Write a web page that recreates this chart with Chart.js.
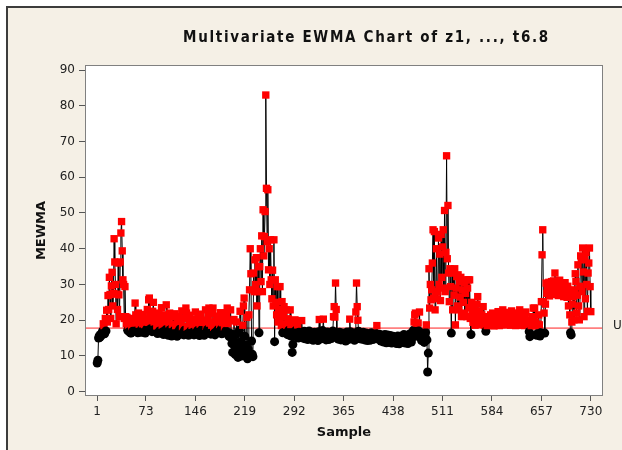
<!DOCTYPE html>
<html><head><meta charset="utf-8">
<script src="https://cdn.jsdelivr.net/npm/chart.js@4.4.1/dist/chart.umd.min.js"></script>
<style>html,body{margin:0;padding:0;background:#fff;overflow:hidden;}canvas{display:block;}</style>
</head><body>
<canvas id="c" width="622" height="450"></canvas>
<script>
const titleText = 'Multivariate EWMA Chart of z1, ..., t6.8';
const yTitle = 'MEWMA';
const xTitle = 'Sample';
const uclValue = 17.8;
const uclLabel = 'UCL=17.8';
const xTicks = [1, 73, 146, 219, 292, 365, 438, 511, 584, 657, 730];
const yTicks = [0, 10, 20, 30, 40, 50, 60, 70, 80, 90];
const mewma = [
  8.0, 8.8, 15.0, 15.6, 15.2, 16.0, 15.7, 16.3, 17.0, 19.0,
  18.5, 16.2, 20.5, 17.0, 22.8, 19.5, 26.9, 23.0, 32.0, 27.2,
  20.5, 29.6, 33.4, 24.0, 27.5, 42.8, 36.3, 30.0, 19.0, 27.3,
  23.0, 36.0, 27.1, 21.0, 36.3, 44.4, 47.6, 39.4, 31.3, 30.0,
  20.5, 29.4, 21.0, 19.0, 20.8, 17.2, 18.5, 16.8, 19.6, 16.5,
  16.4, 18.0, 16.8, 20.5, 17.1, 19.2, 24.8, 21.5, 17.0, 19.8,
  16.5, 22.0, 18.9, 16.7, 20.5, 17.3, 16.6, 19.0, 21.6, 17.0,
  18.8, 16.4, 20.2, 17.5, 23.0, 19.4, 25.7, 26.2, 21.0, 17.6,
  20.8, 16.8, 22.5, 25.0, 19.5, 17.4, 16.9, 21.2, 18.4, 16.3,
  19.7, 22.0, 17.0, 16.4, 20.5, 23.5, 18.6, 16.8, 16.0, 19.2,
  21.5, 17.3, 24.3, 20.6, 16.6, 15.8, 19.0, 22.0, 17.4, 16.2,
  15.6, 18.8, 20.9, 16.9, 17.2, 21.8, 18.5, 16.0, 15.5, 19.3,
  16.8, 21.0, 17.5, 16.1, 19.9, 22.6, 18.2, 16.5, 15.9, 17.2,
  20.5, 23.4, 22.0, 18.0, 16.3, 15.8, 19.6, 21.4, 17.0, 16.2,
  18.6, 20.2, 16.7, 15.9, 19.0, 22.3, 18.5, 16.4, 17.1, 20.6,
  16.0, 15.7, 18.9, 21.7, 17.3, 16.5, 19.4, 16.2, 15.8, 20.0,
  22.9, 18.3, 16.6, 17.4, 21.0, 23.4, 19.2, 16.8, 16.1, 18.6,
  21.9, 23.4, 18.0, 16.4, 15.9, 19.7, 21.2, 16.9, 17.3, 20.4,
  16.6, 18.8, 22.1, 17.5, 16.2, 19.3, 16.7, 20.8, 18.1, 16.4,
  17.0, 21.6, 23.4, 19.1, 16.5, 15.4, 19.8, 22.9, 16.2, 13.5,
  11.0, 15.2, 20.2, 12.8, 10.4, 16.0, 19.5, 13.4, 9.6, 11.8,
  17.2, 22.5, 14.0, 10.0, 12.5, 18.6, 24.0, 26.2, 15.5, 11.2,
  13.0, 20.8, 9.2, 12.0, 21.5, 28.5, 40.0, 33.0, 14.2, 10.5,
  9.8, 33.2, 28.0, 36.9, 30.0, 37.5, 24.0, 28.0, 35.0, 16.5,
  35.0, 40.0, 30.8, 43.6, 28.0, 50.9, 38.0, 43.4, 50.4, 83.0,
  56.9, 42.0, 56.5, 34.1, 40.0, 30.0, 42.5, 31.3, 26.0, 34.0,
  24.0, 42.5, 14.0, 31.3, 25.0, 21.5, 29.4, 19.5, 23.0, 20.5,
  29.4, 22.0, 18.5, 25.2, 16.5, 21.0, 23.8, 19.0, 16.8, 22.9,
  18.6, 16.0, 20.4, 17.2, 15.8, 22.9, 18.8, 15.5, 11.0, 13.2,
  15.6, 16.2, 20.1, 17.1, 15.4, 16.3, 18.7, 15.0, 16.6, 15.9,
  16.0, 15.2, 19.9, 16.4, 15.0, 15.8, 16.9, 14.8, 15.5, 16.2,
  15.1, 14.6, 16.0, 17.0, 15.4, 14.9, 15.7, 16.3, 15.0, 14.4,
  15.8, 16.6, 15.2, 14.7, 16.1, 15.5, 14.3, 16.8, 20.2, 16.0,
  15.3, 14.8, 16.2, 17.1, 20.3, 16.4, 15.0, 15.6, 14.5, 15.9,
  16.7, 15.3, 14.6, 15.8, 16.5, 15.1, 14.9, 16.3, 17.0, 21.0,
  23.8, 20.9, 30.4, 23.0, 16.5, 15.4, 14.7, 15.9, 16.6, 15.2,
  14.5, 15.7, 16.4, 15.0, 14.8, 16.1, 15.5, 14.2, 15.8, 16.7,
  15.3, 14.6, 16.0, 20.3, 16.8, 15.4, 14.9, 15.6, 16.3, 15.0,
  14.4, 16.5, 22.3, 30.4, 23.8, 20.0, 16.9, 15.5, 14.8, 16.2,
  15.4, 14.7, 15.9, 16.6, 15.1, 14.5, 15.8, 16.4, 15.0, 14.3,
  15.6, 16.2, 14.9, 14.4, 15.7, 16.5, 15.2, 14.6, 15.3, 16.0,
  14.8, 15.5, 16.3, 18.5, 15.9, 14.7, 15.1, 16.1, 15.4, 14.2,
  15.0, 15.8, 14.6, 13.9, 15.3, 16.0, 14.5, 13.7, 15.2, 15.9,
  14.4, 13.8, 15.0, 15.7, 14.3, 13.6, 14.9, 15.5, 14.1, 13.9,
  15.2, 14.6, 13.5, 14.8, 15.6, 14.0, 13.4, 14.7, 15.3, 14.2,
  13.8, 14.5, 15.1, 16.0, 14.4, 13.6, 14.9, 15.7, 14.0, 13.5,
  14.6, 15.4, 16.2, 14.8, 13.9, 15.0, 16.5, 17.2, 19.5, 21.5,
  22.0, 19.2, 16.8, 15.5, 19.2, 17.0, 22.3, 16.4, 15.1, 14.3,
  15.6, 16.4, 14.8, 13.8, 15.2, 16.6, 18.7, 14.5, 5.5, 10.8,
  34.4, 23.4, 30.0, 25.7, 28.5, 36.0, 45.3, 26.2, 44.8, 22.9,
  28.0, 40.0, 26.0, 28.0, 43.0, 30.0, 38.5, 25.5, 44.0, 32.0,
  40.5, 45.3, 29.0, 50.7, 28.0, 39.0, 66.0, 37.2, 52.1, 33.2,
  25.2, 34.4, 29.4, 16.4, 34.0, 22.9, 33.2, 27.0, 34.4, 18.7,
  29.0, 32.2, 24.0, 32.7, 22.9, 30.8, 26.5, 32.0, 21.0, 28.5,
  31.0, 25.0, 30.5, 22.0, 27.5, 31.3, 21.0, 29.0, 31.3, 23.5,
  31.3, 20.5, 16.0, 25.0, 21.8, 19.4, 23.0, 20.0, 18.6, 22.0,
  19.5, 24.5, 26.6, 21.0, 19.0, 22.5, 20.2, 18.8, 21.5, 19.2,
  23.8, 20.4, 18.6, 19.8, 16.9, 20.6, 18.5, 19.5, 21.0, 18.7,
  19.4, 21.5, 18.6, 20.2, 22.0, 19.0, 18.4, 20.8, 19.6, 21.2,
  18.9, 20.0, 22.4, 19.3, 18.5, 21.0, 19.8, 20.5, 18.7, 22.9,
  20.3, 19.1, 21.6, 18.8, 19.9, 22.2, 20.6, 18.9, 19.5, 21.4,
  18.6, 20.1, 22.6, 19.7, 18.9, 20.7, 21.9, 19.2, 18.5, 20.4,
  22.0, 19.5, 20.9, 18.7, 22.9, 21.3, 19.4, 18.6, 20.2, 21.7,
  19.0, 18.5, 20.5, 22.3, 19.6, 18.9, 20.0, 18.6, 16.8, 15.4,
  16.0, 18.5, 21.0, 19.2, 23.4, 20.0, 23.4, 19.5, 18.4, 15.8,
  16.2, 18.9, 21.5, 18.7, 15.6, 16.5, 25.2, 38.3, 45.3, 25.2,
  22.0, 16.4, 24.5, 30.4, 27.5, 29.0, 28.2, 30.6, 26.8, 29.5,
  28.0, 30.8, 27.2, 29.6, 31.0, 28.4, 33.2, 29.0, 27.6, 30.2,
  28.8, 26.9, 29.8, 31.2, 28.0, 27.4, 30.0, 30.4, 28.6, 26.6,
  29.2, 30.5, 27.0, 28.8, 26.4, 29.5, 24.0, 28.0, 21.5, 16.5,
  15.9, 19.5, 24.5, 26.6, 20.1, 28.5, 33.0, 30.8, 22.0, 27.0,
  35.5, 24.0, 20.1, 29.5, 38.0, 36.9, 28.0, 40.2, 33.5, 21.0,
  37.0, 26.0, 39.0, 30.0, 22.5, 33.2, 36.0, 40.2, 29.4, 22.4
];
const samples = mewma.map((v, i) => i + 1);

const isOut = v => v > uclValue;

const framePlugin = {
  id: 'frame',
  beforeDraw(chart) {
    const ctx = chart.ctx, a = chart.chartArea;
    ctx.save();
    ctx.fillStyle = '#ffffff';
    ctx.fillRect(0, 0, chart.width, chart.height);
    ctx.fillStyle = '#f5f0e6';
    ctx.fillRect(7, 7, chart.width - 7, chart.height - 7);
    ctx.fillStyle = '#3c3c3c';
    ctx.fillRect(6, 6, chart.width - 6, 2);
    ctx.fillRect(6, 6, 2, chart.height - 6);
    ctx.fillStyle = '#ffffff';
    ctx.fillRect(a.left, a.top, a.right - a.left, a.bottom - a.top);
    ctx.restore();
  },
  afterDraw(chart) {
    const ctx = chart.ctx, a = chart.chartArea;
    ctx.save();
    ctx.strokeStyle = '#808080';
    ctx.lineWidth = 1;
    ctx.strokeRect(a.left + 0.5, a.top + 0.5, a.right - a.left - 1, a.bottom - a.top - 1);
    // title
    ctx.font = 'bold 15px "DejaVu Sans Condensed"';
    ctx.fillStyle = '#111';
    ctx.textBaseline = 'middle';
    ctx.textAlign = 'left';
    ctx.letterSpacing = '0px';
    const w = ctx.measureText(titleText).width;
    const target = 365;
    const sp = (target - w) / (titleText.length - 1);
    ctx.letterSpacing = sp.toFixed(2) + 'px';
    ctx.fillText(titleText, 183, 38);
    ctx.letterSpacing = '0px';
    // UCL label (cut by the right edge, as in the source image)
    const y = chart.scales.y.getPixelForValue(uclValue);
    ctx.font = '12px "DejaVu Sans"';
    ctx.fillStyle = '#222';
    ctx.fillText(uclLabel, 613, y - 2);
    ctx.restore();
  }
};

new Chart(document.getElementById('c'), {
  type: 'line',
  data: {
    datasets: [
      {
        data: samples.map((s, i) => ({ x: s, y: mewma[i] })),
        borderColor: '#000',
        borderWidth: 1,
        tension: 0,
        order: 1,
        pointStyle: ctx => (ctx.raw && isOut(ctx.raw.y)) ? 'rect' : 'circle',
        pointRadius: ctx => (ctx.raw && isOut(ctx.raw.y)) ? 5.2 : 4.5,
        pointBackgroundColor: ctx => (ctx.raw && isOut(ctx.raw.y)) ? '#ff0000' : '#000000',
        pointBorderWidth: 0,
        pointHoverRadius: 0
      },
      {
        data: [{ x: -17, y: uclValue }, { x: 748, y: uclValue }],
        borderColor: '#ff2020',
        borderWidth: 1,
        pointRadius: 0,
        order: 2
      }
    ]
  },
  options: {
    responsive: false,
    animation: false,
    devicePixelRatio: 1,
    layout: { padding: { top: 65, right: 19, left: 0, bottom: 0 } },
    plugins: { legend: { display: false }, tooltip: { enabled: false }, title: { display: false } },
    scales: {
      x: {
        type: 'linear', min: -17, max: 748,
        afterBuildTicks: s => { s.ticks = xTicks.map(v => ({ value: v })); },
        afterFit: s => { s.height = 54; },
        grid: { display: true, drawOnChartArea: false, drawTicks: true, tickLength: 5, color: '#555' },
        border: { display: false },
        ticks: { autoSkip: false, maxRotation: 0, padding: 4, color: '#222', font: { family: 'DejaVu Sans', size: 12 } },
        title: { display: true, text: xTitle, color: '#111', font: { family: 'DejaVu Sans', size: 13, weight: 'bold' }, padding: { top: 0, bottom: 10 } }
      },
      y: {
        type: 'linear', min: -1.2, max: 91.4,
        afterBuildTicks: s => { s.ticks = yTicks.map(v => ({ value: v })); },
        afterFit: s => { s.width = 85; },
        grid: { display: true, drawOnChartArea: false, drawTicks: true, tickLength: 6, color: '#555' },
        border: { display: false },
        ticks: { padding: 4, color: '#222', font: { family: 'DejaVu Sans', size: 12 } },
        title: { display: true, text: yTitle, color: '#111', font: { family: 'DejaVu Sans', size: 13, weight: 'bold' }, padding: { top: 34, bottom: 0 } }
      }
    }
  },
  plugins: [framePlugin]
});
</script>
</body></html>
